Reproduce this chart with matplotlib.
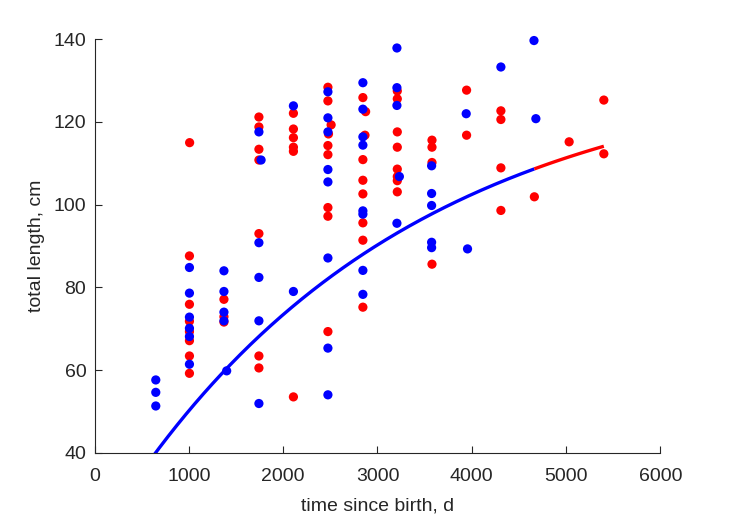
import numpy as np
import matplotlib
matplotlib.use("Agg")
import matplotlib.pyplot as plt

plt.rcParams['font.family'] = ['Liberation Sans', 'DejaVu Sans']

# ---- data ----
red_t = [1007, 1005, 1005, 1005, 1005, 1005, 1005, 1005,
         1371, 1371, 1371,
         1742, 1742, 1742, 1742, 1742, 1742, 1742,
         2108, 2108, 2108, 2108, 2108, 2108,
         2474, 2474, 2508, 2480, 2474, 2474, 2474, 2474, 2474,
         2845, 2874, 2867, 2845, 2845, 2845, 2845, 2845, 2845,
         3210, 3210, 3210, 3210, 3210, 3210, 3210, 3210,
         3578, 3578, 3578, 3578,
         3945, 3945,
         4309, 4309, 4309, 4309,
         4664,
         5033,
         5401, 5401]
red_L = [115.0, 87.6, 75.9, 71.8, 69.3, 67.1, 63.4, 59.2,
         77.1, 72.9, 71.6,
         121.2, 118.8, 113.4, 110.8, 93.0, 63.4, 60.5,
         122.1, 118.3, 116.2, 113.9, 112.9, 53.5,
         128.4, 125.1, 119.3, 117.1, 114.3, 112.1, 99.3, 97.2, 69.3,
         125.9, 122.5, 116.8, 110.9, 105.9, 102.6, 95.6, 91.4, 75.2,
         127.5, 125.6, 117.6, 113.9, 108.6, 106.8, 105.8, 103.1,
         115.6, 113.9, 110.2, 85.6,
         127.7, 116.8,
         122.7, 120.6, 108.9, 98.6,
         101.9,
         115.2,
         125.3, 112.3]

blue_t = [648, 648, 648,
          1005, 1005, 1005, 1005, 1005, 1005,
          1371, 1371, 1371, 1371, 1400,
          1742, 1765, 1742, 1742, 1742, 1742,
          2108, 2108,
          2474, 2474, 2474, 2474, 2474, 2474, 2474, 2474,
          2845, 2845, 2845, 2845, 2845, 2845, 2845, 2845,
          3206, 3206, 3206, 3232, 3206,
          3574, 3574, 3574, 3574, 3574,
          3941, 3955,
          4309,
          4660, 4680]
blue_L = [57.6, 54.6, 51.3,
          84.8, 78.6, 72.8, 70.1, 68.1, 61.4,
          84.0, 79.0, 74.0, 71.9, 59.8,
          117.6, 110.8, 90.8, 82.4, 71.9, 51.9,
          123.9, 79.0,
          127.3, 121.0, 117.6, 108.5, 105.5, 87.1, 65.3, 54.0,
          129.5, 123.1, 116.4, 114.4, 98.5, 97.7, 84.1, 78.3,
          137.9, 128.3, 124.0, 106.8, 95.5,
          109.4, 102.7, 99.8, 90.9, 89.6,
          122.0, 89.3,
          133.3,
          139.7, 120.8]

# von Bertalanffy growth curve parameters (fitted curve shown in the chart)
L_inf = 134.6
L_birth = 18.1
k_growth = 3.22e-4
t_blue_end = 4664
t_red_end = 5401

xticks = [0, 1000, 2000, 3000, 4000, 5000, 6000]
yticks = [40, 60, 80, 100, 120, 140]


def vb(t):
    return L_inf - (L_inf - L_birth) * np.exp(-k_growth * t)


fig = plt.figure(figsize=(7.29, 5.21), dpi=100)
ax = fig.add_axes([94.7 / 729, 1 - 452.7 / 521, (660.3 - 94.7) / 729, (452.7 - 39.3) / 521])

tb = np.linspace(0, t_blue_end, 300)
tr = np.linspace(t_blue_end, t_red_end, 80)
ax.plot(tb, vb(tb), color=(0, 0, 1), lw=2.4, solid_capstyle='butt', zorder=2)
ax.plot(tr, vb(tr), color=(1, 0, 0), lw=2.4, solid_capstyle='butt', zorder=2)

ax.scatter(red_t, red_L, s=44, color=(1, 0, 0), edgecolors='none', zorder=3, clip_on=False)
ax.scatter(blue_t, blue_L, s=44, color=(0, 0, 1), edgecolors='none', zorder=4, clip_on=False)

ax.set_xlim(0, 6000)
ax.set_ylim(40, 140)
ax.set_xticks(xticks)
ax.set_yticks(yticks)

gray = (0.15, 0.15, 0.15)
for s in ['top', 'right']:
    ax.spines[s].set_visible(False)
for s in ['left', 'bottom']:
    ax.spines[s].set_color(gray)
    ax.spines[s].set_linewidth(0.8)

ax.tick_params(direction='in', length=5, width=0.8, colors=gray, labelsize=14)
ax.tick_params(axis='x', pad=11)
ax.tick_params(axis='y', pad=6)

ax.set_xlabel('time since birth, d', fontsize=14, color=gray, labelpad=9)
ax.set_ylabel('total length, cm', fontsize=14, color=gray, labelpad=6)

fig.savefig('out.png', dpi=100)
